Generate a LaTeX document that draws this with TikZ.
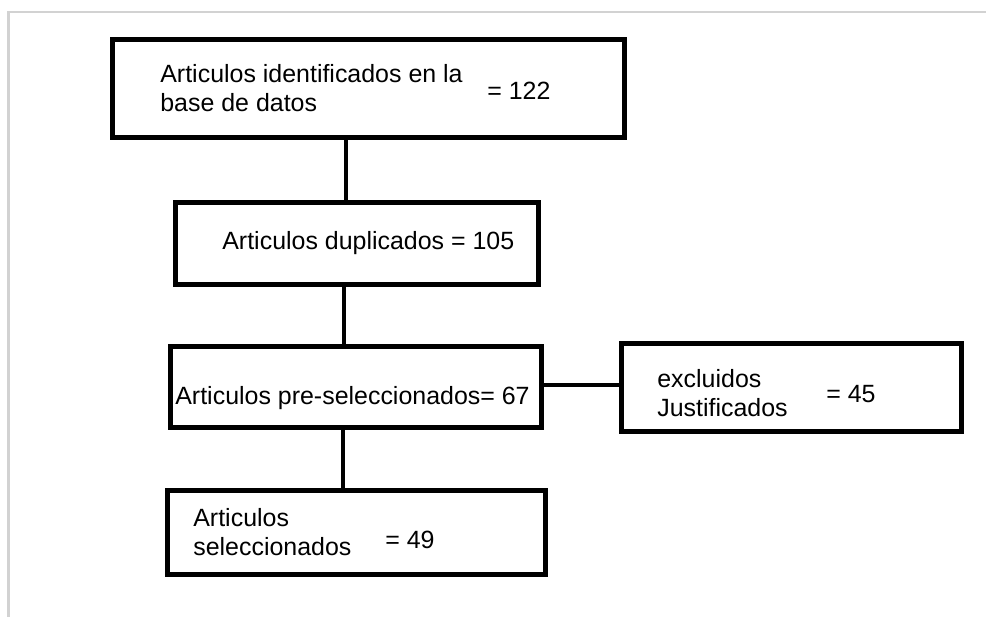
\documentclass[tikz,border=0pt]{standalone}
\usepackage{fontspec}
\setmainfont{Liberation Sans}
\usepackage{tikz}
\usetikzlibrary{calc}

\begin{document}
\begin{tikzpicture}[x=0.02cm,y=-0.02cm,
  box/.style={draw=black,line width=0.1cm,rectangle,inner sep=0pt},
  link/.style={draw=black,line width=0.09cm},
  lbl/.style={anchor=base west,inner sep=0pt,font=\fontsize{14.2pt}{16.4pt}\selectfont}]
  \useasboundingbox (0,0) rectangle (986,617);

  % page frame
  \draw[gray!35,line width=1.5pt] (8.5,617) -- (8.5,12) -- (986,12);

  % boxes
  \node[box,minimum width=10.24cm,minimum height=1.96cm] (ident) at (368.5,88.5) {};
  \node[box,minimum width=7.28cm,minimum height=1.65cm] (dup) at (357,243.25) {};
  \node[box,minimum width=7.42cm,minimum height=1.62cm] (pre) at (356,387) {};
  \node[box,minimum width=6.8cm,minimum height=1.76cm] (excl) at (791.5,387.5) {};
  \node[box,minimum width=7.56cm,minimum height=1.68cm] (sel) at (356.5,532.5) {};

  % texts
  \node[lbl] (identA) at (160,83) {Articulos identificados en la};
  \node[lbl] (identB) at (160,112) {base de datos};
  \node[lbl] (identN) at (487,100) {= 122};
  \node[lbl] (dupT) at (222,250) {Articulos duplicados = 105};
  \node[lbl] (preT) at (175,405) {Articulos pre-seleccionados= 67};
  \node[lbl] (exclA) at (657,388) {excluidos};
  \node[lbl] (exclB) at (657,417) {Justificados};
  \node[lbl] (exclN) at (826,403) {= 45};
  \node[lbl] (selA) at (193,526) {Articulos};
  \node[lbl] (selB) at (193,555) {seleccionados};
  \node[lbl] (selN) at (385,548) {= 49};

  % connector feet
  \coordinate (identFoot) at ($(ident.south)+(-22.5,0)$);
  \coordinate (dupFoot) at ($(dup.south)+(-13,0)$);
  \coordinate (preFoot) at ($(pre.south)+(-13,0)$);
  \coordinate (preSide) at ($(pre.east)+(0,-2)$);

  % connectors
  \draw[link] (identFoot) -- (identFoot |- dup.north);
  \draw[link] (dupFoot) -- (dupFoot |- pre.north);
  \draw[link] (preFoot) -- (preFoot |- sel.north);
  \draw[link] (preSide) -- (preSide -| excl.west);
\end{tikzpicture}
\end{document}
